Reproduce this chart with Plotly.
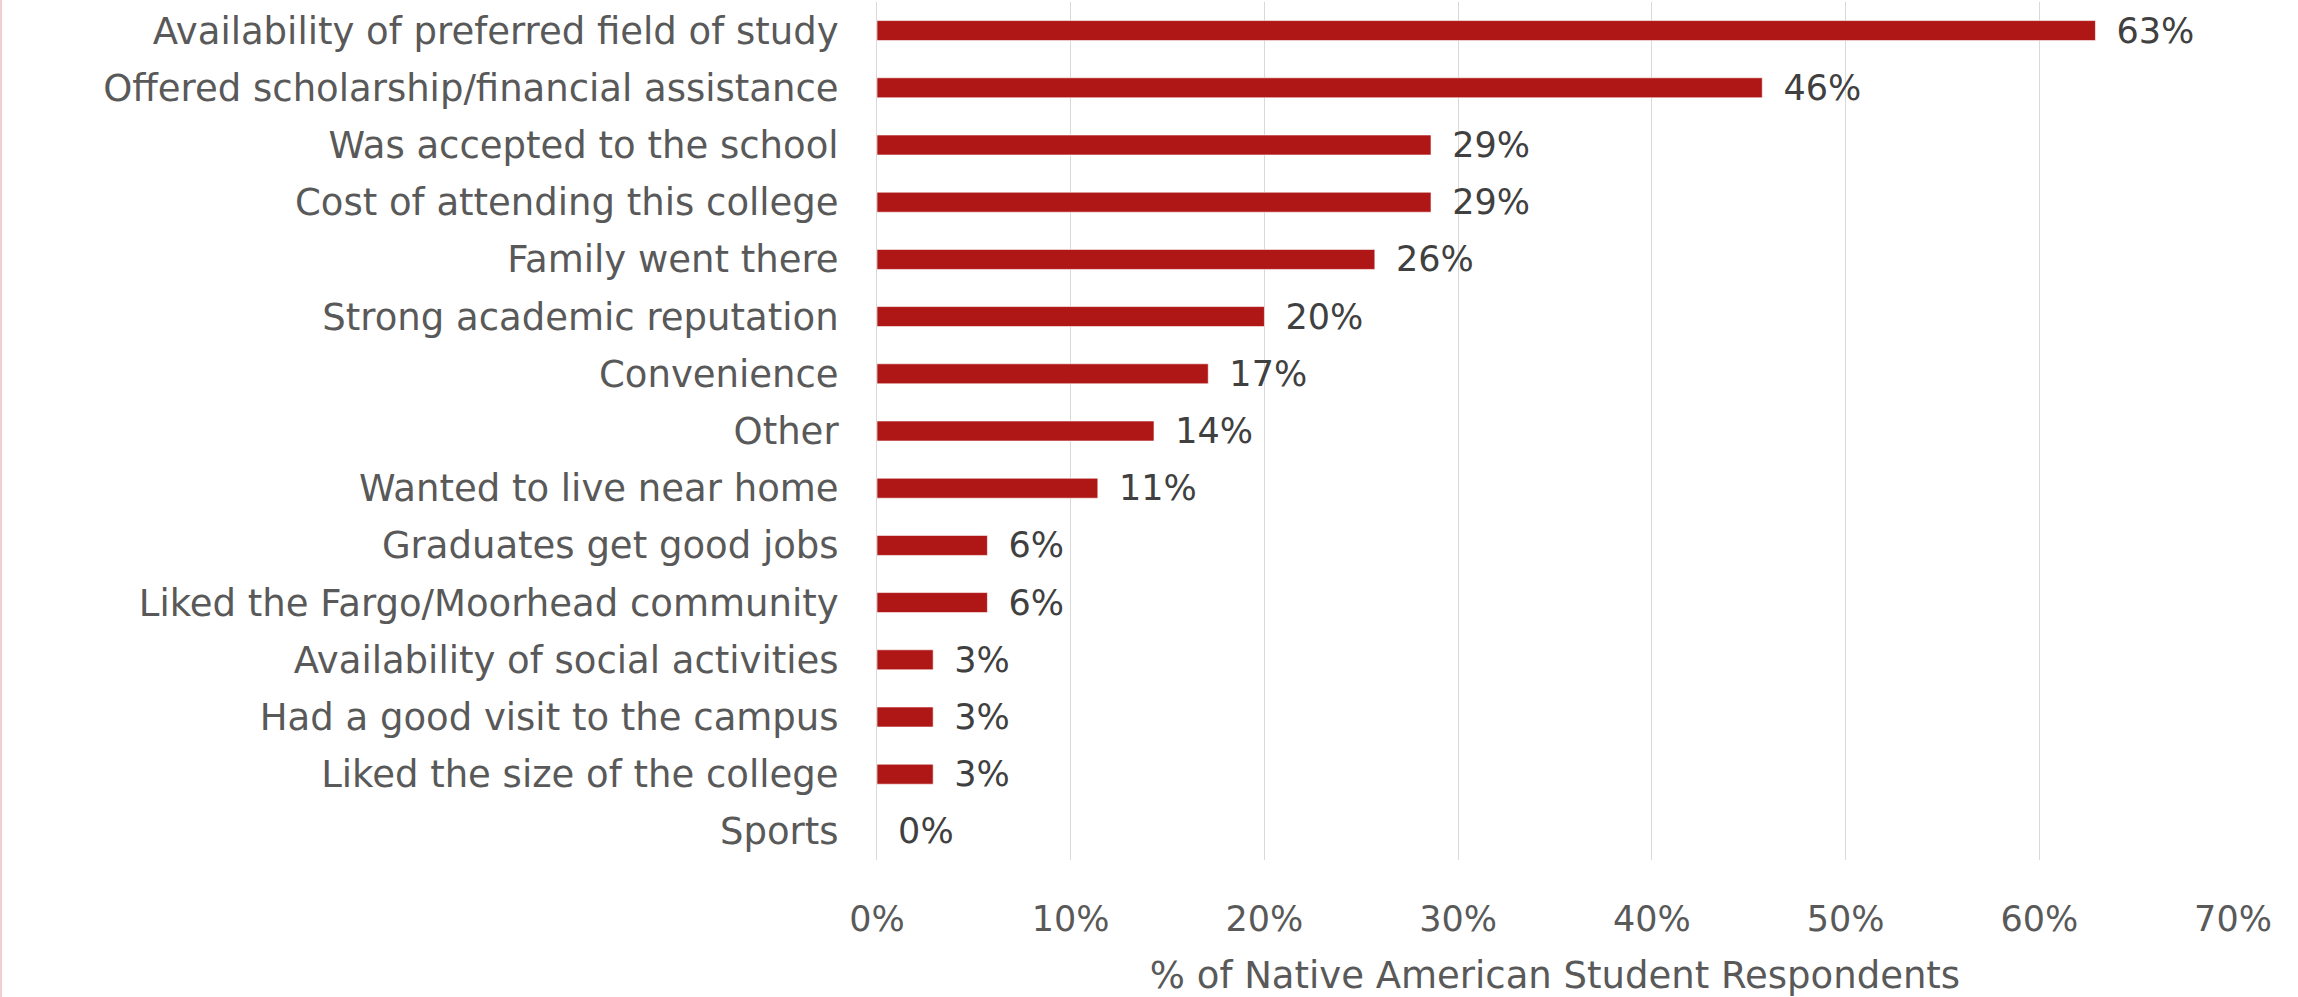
import plotly.graph_objects as go

categories = [
    "Availability of preferred field of study",
    "Offered scholarship/financial assistance",
    "Was accepted to the school",
    "Cost of attending this college",
    "Family went there",
    "Strong academic reputation",
    "Convenience",
    "Other",
    "Wanted to live near home",
    "Graduates get good jobs",
    "Liked the Fargo/Moorhead community",
    "Availability of social activities",
    "Had a good visit to the campus",
    "Liked the size of the college",
    "Sports",
]
values = [62.9, 45.7, 28.6, 28.6, 25.7, 20.0, 17.1, 14.3, 11.4, 5.7, 5.7, 2.9, 2.9, 2.9, 0.0]
x_ticks = [0, 10, 20, 30, 40, 50, 60, 70]
x_title = "% of Native American Student Respondents"

FONT = "'DejaVu Sans', sans-serif"
FS_NUM = 35
FS_TXT = 37

fig = go.Figure(
    go.Bar(
        y=categories,
        x=values,
        orientation="h",
        marker=dict(color="#AF1616", line=dict(color="rgba(255,255,255,0.6)", width=1)),
        width=0.35,
        texttemplate="\u00a0\u2009%{x:.0f}%",
        textposition="outside",
        constraintext="none",
        textfont=dict(family=FONT, size=FS_NUM, color="#404040"),
        cliponaxis=False,
        hoverinfo="skip",
    )
)

fig.update_layout(
    width=2298,
    height=997,
    margin=dict(l=877, r=65, t=2, b=137, autoexpand=False),
    paper_bgcolor="white",
    plot_bgcolor="white",
    showlegend=False,
    font=dict(family=FONT, color="#595959"),
    xaxis=dict(
        range=[0, 70],
        tickvals=x_ticks,
        ticktext=[f"{t}%" for t in x_ticks],
        showgrid=True,
        gridcolor="#D9D9D9",
        gridwidth=1,
        zeroline=False,
        showline=False,
        automargin=False,
        ticks="outside",
        ticklen=28,
        tickcolor="rgba(0,0,0,0)",
        tickfont=dict(size=FS_NUM, color="#595959"),
        title=dict(text=x_title, font=dict(size=FS_TXT, color="#595959"), standoff=32),
    ),
    yaxis=dict(
        autorange="reversed",
        showgrid=False,
        zeroline=False,
        showline=True,
        automargin=False,
        linecolor="#D9D9D9",
        linewidth=1,
        ticks="outside",
        ticklen=30,
        tickcolor="rgba(0,0,0,0)",
        tickfont=dict(size=FS_TXT, color="#595959"),
    ),
    shapes=[
        dict(type="line", xref="paper", yref="paper", x0=-876 / 1356, x1=-876 / 1356,
             y0=-137 / 858, y1=1 + 2 / 858, line=dict(color="#F2D0D0", width=2)),
    ],
)

fig.write_html(
    "out.html",
    config={"displayModeBar": False},
    post_script="document.body.style.margin='0px';",
)
